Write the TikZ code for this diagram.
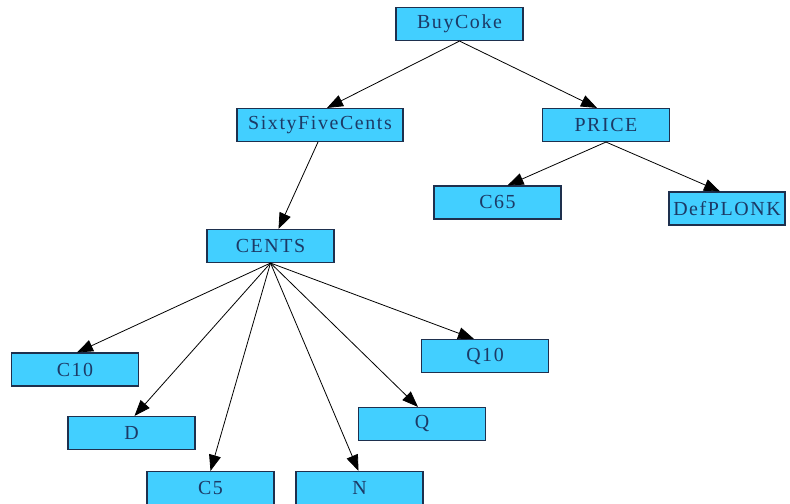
\documentclass[tikz,border=0pt]{standalone}
\usepackage{fontspec}
\setmainfont{Liberation Serif}[LetterSpace=8]
\usetikzlibrary{arrows.meta}
\definecolor{boxfill}{RGB}{66,207,255}
\definecolor{boxline}{RGB}{30,48,78}
\definecolor{boxtext}{RGB}{28,58,102}
\tikzset{
  sym/.style={draw=boxline, line width=1.1bp, fill=boxfill, text=boxtext,
    minimum width=127bp, minimum height=33bp, inner sep=0pt,
    font=\fontsize{20}{22}\selectfont},
  link/.style={draw=black, line width=0.8bp,
    -{Triangle[length=16bp,width=12bp]}}
}
\begin{document}
\begin{tikzpicture}[x=1bp,y=-1bp]
\useasboundingbox (0,0) rectangle (790,504);

% grammar symbols
\node[sym] (buy)   at (459.5,24)  {BuyCoke};
\node[sym, minimum width=166bp] (sfc) at (320,125) {SixtyFiveCents};
\node[sym] (price) at (606,125)   {PRICE};
\node[sym] (c65)   at (497.5,202.5) {C65};
\node[sym, minimum width=116bp] (plonk) at (727,208.5) {DefPLONK};
\node[sym] (cents) at (270.5,246) {CENTS};
\node[sym] (c10)   at (75,369.5)  {C10};
\node[sym] (d)     at (131.5,433) {D};
\node[sym] (c5)    at (210.5,488) {C5};
\node[sym] (n)     at (359.5,488) {N};
\node[sym] (q)     at (422,424)   {Q};
\node[sym] (q10)   at (485,356)   {Q10};

% derivation edges
\draw[link] (buy.south) -- ([xshift=7bp]sfc.north);
\draw[link] (buy.south) -- ([xshift=-9bp]price.north);
\draw[link] ([xshift=-2bp]sfc.south) -- ([xshift=8bp]cents.north);
\draw[link] (price.south) -- ([xshift=10bp]c65.north);
\draw[link] (price.south) -- ([xshift=-7bp]plonk.north);
\draw[link] (cents.south) -- ([xshift=2bp]c10.north);
\draw[link] (cents.south) -- ([xshift=3bp]d.north);
\draw[link] (cents.south) -- (c5.north);
\draw[link] (cents.south) -- ([xshift=-1bp]n.north);
\draw[link] (cents.south) -- ([xshift=-4bp]q.north);
\draw[link] (cents.south) -- ([xshift=-11bp]q10.north);
\end{tikzpicture}
\end{document}
